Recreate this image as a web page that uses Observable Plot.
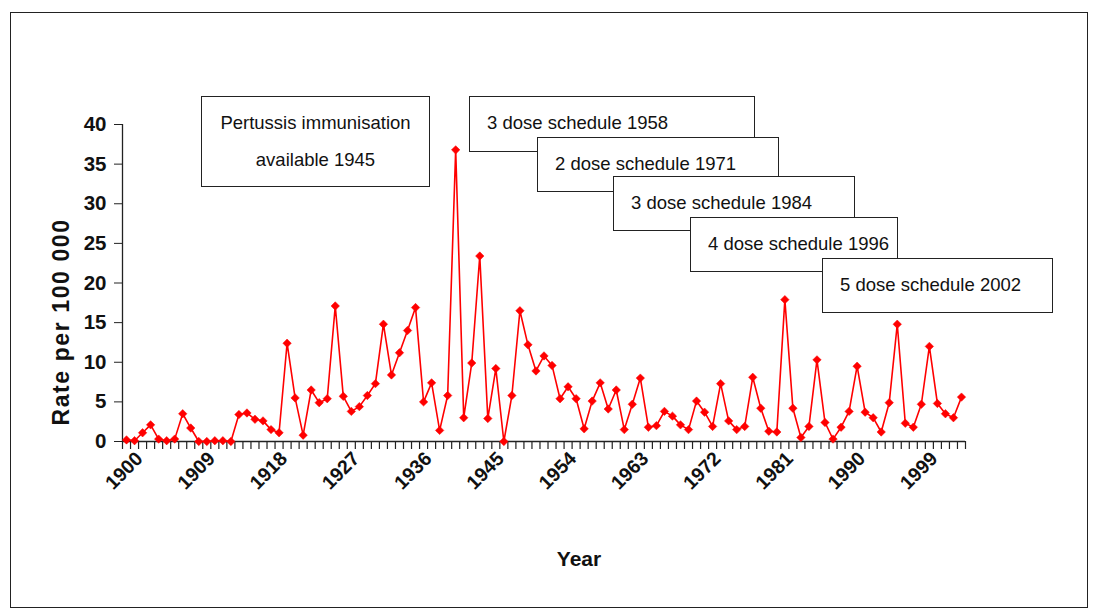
<!DOCTYPE html>
<html>
<head>
<meta charset="utf-8">
<script src="https://cdn.jsdelivr.net/npm/d3@7"></script>
<script src="https://cdn.jsdelivr.net/npm/@observablehq/plot@0.6"></script>
<style>
html, body { margin: 0; padding: 0; background: #fff; }
#wrap { position: relative; width: 1096px; height: 610px; overflow: hidden; font-family: "Liberation Sans", Arial, sans-serif; }
#chart svg { display: block; }
#border { position: absolute; left: 10px; top: 12px; width: 1076px; height: 594px; border: 1.5px solid #222; pointer-events: none; }
.note { position: absolute; background: #fff; border: 1.5px solid #222; box-sizing: border-box; font-size: 18.5px; color: #111; white-space: nowrap; line-height: 22px; padding: 15px 0 0 17px; }
.note.center { text-align: center; padding: 7px 0 0 0; line-height: 37px; }
</style>
</head>
<body>
<div id="wrap"><div id="chart"></div><div id="border"></div></div>
<script>
// ---- data ----
const years = [
  1900,1901,1902,1903,1904,1905,1906,1907,1908,1909,
  1910,1911,1912,1913,1914,1915,1916,1917,1918,1919,
  1920,1921,1922,1923,1924,1925,1926,1927,1928,1929,
  1930,1931,1932,1933,1934,1935,1936,1937,1938,1939,
  1940,1941,1942,1943,1944,1945,1946,1947,1948,1949,
  1950,1951,1952,1953,1954,1955,1956,1957,1958,1959,
  1960,1961,1962,1963,1964,1965,1966,1967,1968,1969,
  1970,1971,1972,1973,1974,1975,1976,1977,1978,1979,
  1980,1981,1982,1983,1984,1985,1986,1987,1988,1989,
  1990,1991,1992,1993,1994,1995,1996,1997,1998,1999,
  2000,2001,2002,2003,2004
];
const rates = [
  0.2,0.1,1.1,2.1,0.3,0.1,0.3,3.5,1.7,0.0,
  0.0,0.1,0.1,0.0,3.4,3.6,2.8,2.6,1.5,1.1,
  12.4,5.5,0.8,6.5,4.9,5.4,17.1,5.7,3.8,4.4,
  5.8,7.3,14.8,8.4,11.2,14.0,16.9,5.0,7.4,1.4,
  5.8,36.8,3.0,9.9,23.4,2.9,9.2,0.0,5.8,16.5,
  12.2,8.9,10.8,9.6,5.4,6.9,5.4,1.6,5.1,7.4,
  4.1,6.5,1.5,4.7,8.0,1.8,2.0,3.8,3.2,2.1,
  1.5,5.1,3.7,1.9,7.3,2.6,1.5,1.9,8.1,4.2,
  1.3,1.2,17.9,4.2,0.5,1.9,10.3,2.4,0.3,1.8,
  3.8,9.5,3.7,3.0,1.2,4.9,14.8,2.3,1.8,4.7,
  12.0,4.8,3.5,3.0,5.6
];
const yTicks = [0, 5, 10, 15, 20, 25, 30, 35, 40];
const xLabelYears = [1900, 1909, 1918, 1927, 1936, 1945, 1954, 1963, 1972, 1981, 1990, 1999];
const yTitle = "Rate per 100 000";
const xTitle = "Year";
const noteLabels = [
  "Pertussis immunisation\navailable 1945",
  "3 dose schedule 1958",
  "2 dose schedule 1971",
  "3 dose schedule 1984",
  "4 dose schedule 1996",
  "5 dose schedule 2002"
];

// ---- layout (pixels) ----
const noteLayout = [
  {left: 201, top: 96, width: 229, height: 91, center: true},
  {left: 469, top: 96, width: 286, height: 56},
  {left: 537, top: 137, width: 242, height: 55},
  {left: 613, top: 176, width: 242, height: 55},
  {left: 690, top: 217, width: 208, height: 55},
  {left: 822, top: 258, width: 231, height: 55}
];

const table = years.map((year, i) => ({year, rate: rates[i]}));
const xDomain = [years[0] - 0.5, years[years.length - 1] + 0.5];
const betweenTicks = d3.range(0, years.length + 1).map(i => xDomain[0] + i);
const red = "#ff0000";
const font = "Liberation Sans, Arial, sans-serif";

const chart = Plot.plot({
  width: 1096,
  height: 610,
  marginLeft: 122,
  marginRight: 131,
  marginTop: 124,
  marginBottom: 169,
  style: {fontFamily: font, background: "#fff", color: "#111", overflow: "visible"},
  x: {domain: xDomain, axis: null},
  y: {domain: [0, 40], axis: null},
  marks: [
    Plot.axisY({ticks: yTicks, tickSize: 8, tickPadding: 8, fontSize: 20.5, fontWeight: "bold", label: null, tickFormat: d => String(d), stroke: "#222"}),
    Plot.axisX({ticks: betweenTicks, tickSize: 8, tickFormat: () => "", label: null, stroke: "#222", strokeWidth: 1.2}),
    Plot.ruleX([xDomain[0]], {stroke: "#222", strokeWidth: 1.3}),
    Plot.ruleY([0], {stroke: "#222", strokeWidth: 1.3}),
    Plot.text(xLabelYears, {x: d => d, frameAnchor: "bottom", rotate: -45, textAnchor: "end", lineAnchor: "middle",
      dx: 13, dy: 14, fontSize: 19.5, fontWeight: "bold", fill: "#111", text: d => String(d)}),
    Plot.text([yTitle], {frameAnchor: "left", rotate: -90, textAnchor: "middle", lineAnchor: "middle",
      dx: -61, dy: 39, fontSize: 23, fontWeight: "bold", fill: "#111"}),
    Plot.text([xTitle], {frameAnchor: "bottom", textAnchor: "middle", lineAnchor: "middle",
      dx: 35, dy: 118, fontSize: 21, fontWeight: "bold", fill: "#111"}),
    Plot.line(table, {x: "year", y: "rate", stroke: red, strokeWidth: 1.6}),
    Plot.dot(table, {x: "year", y: "rate", symbol: "diamond2", r: 3.8, fill: red, stroke: red, strokeWidth: 0.5})
  ]
});
document.getElementById("chart").appendChild(chart);

// y title letter-spacing
d3.select(chart).selectAll("text").filter(function() { return this.textContent === yTitle; }).style("letter-spacing", "1.6px");

const wrap = document.getElementById("wrap");
noteLabels.forEach((label, i) => {
  const L = noteLayout[i];
  const div = document.createElement("div");
  div.className = "note" + (L.center ? " center" : "");
  div.style.left = L.left + "px";
  div.style.top = L.top + "px";
  div.style.width = L.width + "px";
  div.style.height = L.height + "px";
  div.innerHTML = label.split("\n").map(s => s.replace(/&/g, "&amp;").replace(/</g, "&lt;")).join("<br>");
  wrap.appendChild(div);
});
</script>
</body>
</html>
